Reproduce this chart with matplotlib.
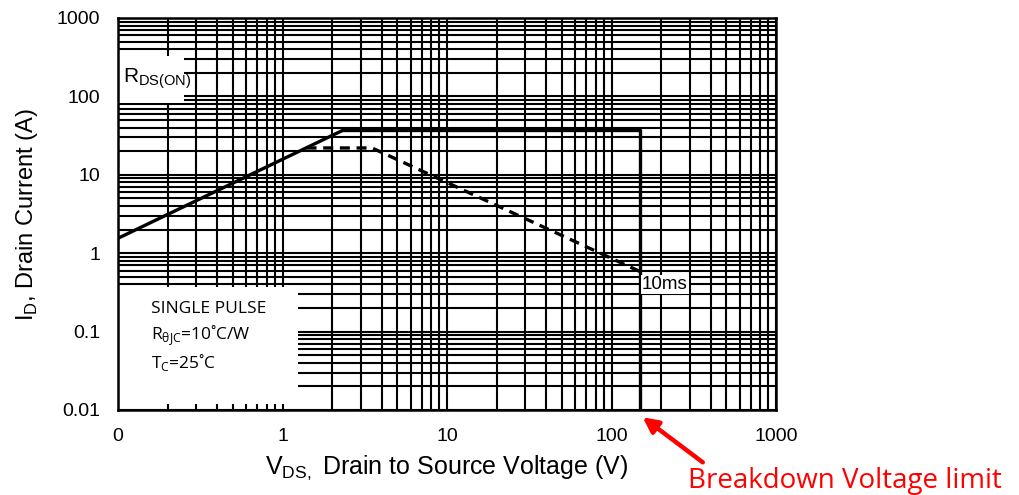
import matplotlib
matplotlib.use("Agg")
import matplotlib.pyplot as plt
from matplotlib.patches import Rectangle
from matplotlib.ticker import LogLocator, NullFormatter, FixedLocator, FixedFormatter

# safe operating area data
rds_v = [0.1, 2.33]          # RDS(on) limited line
rds_i = [1.55, 37.0]
dc_v = [2.33, 150.0, 150.0]  # current limit then breakdown
dc_i = [37.0, 37.0, 0.01]
ms10_v = [1.4, 3.5, 150.0]   # 10 ms pulse
ms10_i = [22.0, 22.0, 0.58]

xticks = [0.1, 1, 10, 100, 1000]
xlabels = ["0", "1", "10", "100", "1000"]
yticks = [0.01, 0.1, 1, 10, 100, 1000]
ylabels = ["0.01", "0.1", "1", "10", "100", "1000"]

plt.rcParams['font.family'] = ['Liberation Sans', 'DejaVu Sans']

fig = plt.figure(figsize=(10.19, 4.95), dpi=100)
ax = fig.add_axes([118/1019, 1 - 410/495, 658/1019, 392/495])
ax.set_xscale("log")
ax.set_yscale("log")
ax.set_xlim(0.1, 1000)
ax.set_ylim(0.01, 1000)

ax.xaxis.set_major_locator(FixedLocator(xticks))
ax.xaxis.set_major_formatter(FixedFormatter(xlabels))
ax.yaxis.set_major_locator(FixedLocator(yticks))
ax.yaxis.set_major_formatter(FixedFormatter(ylabels))
ax.xaxis.set_minor_locator(LogLocator(base=10, subs=range(2, 10), numticks=20))
ax.yaxis.set_minor_locator(LogLocator(base=10, subs=range(2, 10), numticks=20))
ax.xaxis.set_minor_formatter(NullFormatter())
ax.yaxis.set_minor_formatter(NullFormatter())
ax.tick_params(which="both", length=0, labelsize=14)
ax.tick_params(axis="x", pad=13)
ax.tick_params(axis="y", pad=13)

ax.set_axisbelow(True)
ax.grid(True, which="both", color="black", linewidth=1.5)
for s in ax.spines.values():
    s.set_linewidth(1.8)

# white label boxes covering the grid
ax.add_patch(Rectangle((0.0, 0.783), 0.10, 0.12, transform=ax.transAxes,
                       facecolor="white", edgecolor="none", zorder=1))
ax.text(0.008, 0.845, r"$\mathregular{R_{DS(ON)}}$", transform=ax.transAxes,
        fontsize=15, va="center", ha="left", zorder=3)

ax.add_patch(Rectangle((0.0, 0.015), 0.274, 0.30, transform=ax.transAxes,
                       facecolor="white", edgecolor="none", zorder=1))
ax.text(0.05, 0.258, "SINGLE PULSE", transform=ax.transAxes, fontsize=12.5,
        family=["Open Sans", "DejaVu Sans"], va="center", zorder=3)
ax.text(0.05, 0.19, r"R$_{\mathregular{θJC}}$=10˚C/W", transform=ax.transAxes,
        fontsize=12.5, family=["Open Sans", "DejaVu Sans"], va="center", zorder=3)
ax.text(0.05, 0.122, r"T$_{\mathregular{C}}$=25˚C", transform=ax.transAxes,
        fontsize=12.5, family=["Open Sans", "DejaVu Sans"], va="center", zorder=3)

ax.plot(rds_v, rds_i, color="black", linewidth=2.4, zorder=2)
ax.plot(dc_v, dc_i, color="black", linewidth=2.4, zorder=2)
ax.plot(ms10_v, ms10_i, color="black", linewidth=2.4, linestyle=(0, (3, 2)), zorder=2)

ax.text(153, 0.4, "10ms", fontsize=13.5, va="center", ha="left", zorder=3,
        bbox=dict(facecolor="white", edgecolor="none", pad=1))

ax.set_xlabel(r"V$_{\mathregular{DS,}}$ Drain to Source Voltage (V)", fontsize=18, labelpad=6)
ax.set_ylabel(r"I$_{\mathregular{D}}$, Drain Current (A)", fontsize=17, labelpad=12)

# red annotation for breakdown voltage
ax.annotate("", xy=(150, 0.0085), xycoords="data", xytext=(705/1019, 1 - 464/495),
            textcoords="figure fraction",
            arrowprops=dict(arrowstyle="-|>,head_length=0.9,head_width=0.45",
                            color="red", linewidth=3.2), annotation_clip=False)
fig.text(845/1019, 1 - 481/495, "Breakdown Voltage limit", color="red", fontsize=20,
         family=["Open Sans", "DejaVu Sans"], ha="center", va="center")

fig.savefig("out.png", dpi=100)
